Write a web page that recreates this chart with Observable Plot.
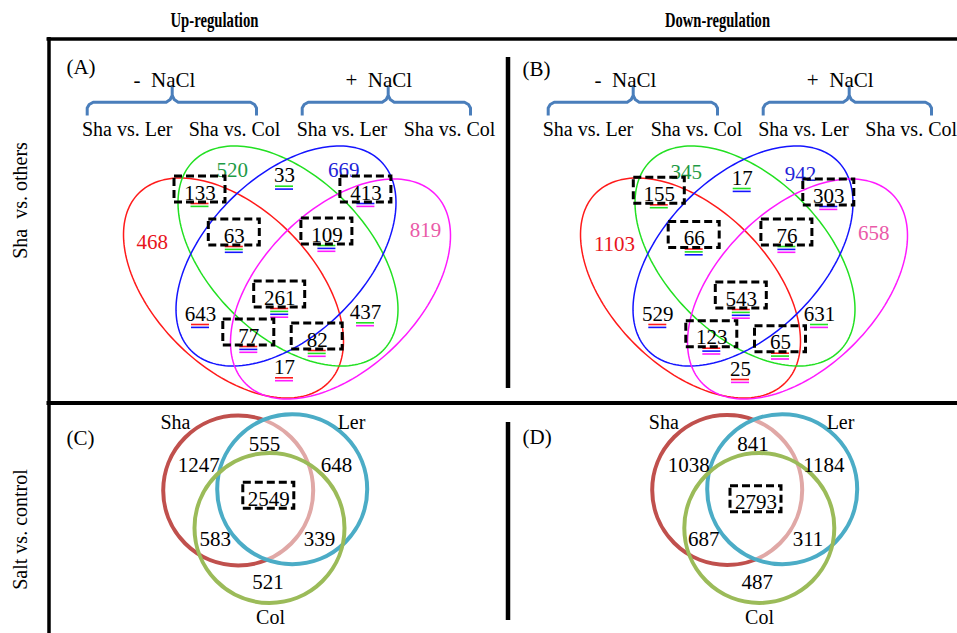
<!DOCTYPE html>
<html><head><meta charset="utf-8">
<script src="https://cdn.jsdelivr.net/npm/d3@7"></script>
<script src="https://cdn.jsdelivr.net/npm/@observablehq/plot@0.6"></script>
<style>body{margin:0;background:#fff} svg{display:block}</style>
</head><body><div id="chart"></div>
<script>
// ---------- DATA ----------
const columnTitles = ["Up-regulation", "Down-regulation"];
const rowTitles = ["Sha  vs. others", "Salt vs. control"];
const panelLetters = ["(A)", "(B)", "(C)", "(D)"];
const conditions = ["-  NaCl", "+  NaCl"];
const comparisons = ["Sha vs. Ler", "Sha vs. Col", "Sha vs. Ler", "Sha vs. Col"];
// 4-set regions: R = Sha vs. Ler (-NaCl), G = Sha vs. Col (-NaCl), B = Sha vs. Ler (+NaCl), M = Sha vs. Col (+NaCl)
const regions4 = ["R","G","B","M","RG","GB","BM","RGB","GBM","RB","GM","RGBM","RBM","RGM","RM"];
const upCounts = [468, 520, 669, 819, 133, 33, 413, 63, 109, 643, 437, 261, 77, 82, 17];
const downCounts = [1103, 345, 942, 658, 155, 17, 303, 66, 76, 529, 631, 543, 123, 65, 25];
const boxedRegions4 = ["RG","BM","RGB","GBM","RGBM","RBM","RGM"];
// 3-set regions: S = Sha, L = Ler, C = Col (salt vs. control)
const genotypes = ["Sha", "Ler", "Col"];
const regions3 = ["S","SL","L","SC","LC","C","SLC"];
const upSalt = [1247, 555, 648, 583, 339, 521, 2549];
const downSalt = [1038, 841, 1184, 687, 311, 487, 2793];
const boxedRegions3 = ["SLC"];

// ---------- LAYOUT (positions / styles) ----------
const serif = "'Liberation Serif','Times New Roman',Times,serif";
const setColor = {R: "#ff1a1a", G: "#22e022", B: "#1414ff", M: "#ff1aff"};
const soloTextColor = {R: "#e8141c", G: "#1e9b46", B: "#2222d8", M: "#ea5aa8"};
const pos4A = {R:[151.7,248.3],G:[231.7,176.7],B:[343.3,176.7],M:[425,236.7],RG:[199.5,199],GB:[284,181.7],BM:[365.4,199],
  RGB:[233.8,242],GBM:[326.4,241],RB:[200,320],GM:[365,318.3],RGBM:[279.2,304],RBM:[248.3,342],RGM:[316.7,346],RM:[284,373.3]};
const pos4B = {R:[614,250],G:[685.7,178.3],B:[800,180],M:[873.3,239.3],RG:[658.8,200.3],GB:[741.7,184],BM:[828.3,202],
  RGB:[693.7,244.5],GBM:[786.4,242],RB:[657.3,320],GM:[819,320],RGBM:[740.8,305],RBM:[711.3,343.7],RGM:[780,348.7],RM:[740,375]};
const pos3C = {S:[198.3,471.7],SL:[264,450],L:[336,471.7],SC:[214.7,545],LC:[319,545],C:[267.5,588.3],SLC:[268.3,505.3]};
const pos3D = {S:[688.3,471.7],SL:[752.5,450],L:[823.3,471.7],SC:[703.3,545],LC:[807.5,545],C:[756.7,588.3],SLC:[755.5,508.7]};
const ellipseA = [ // key, cx, cy, rotation (deg)
  ["R", 233, 287.5, 45], ["G", 287.5, 255.5, 45], ["B", 285.5, 255.5, -45], ["M", 340, 288.5, -45]];
const ellA = 134, ellB = 79, panelShiftB = 457;
const circles = {
  C: [["Sha",237.7,490,"#c0504d"],["Ler",291.7,488.7,"#4bacc6"],["Col",269,527.5,"#9bbb59"]],
  D: [["Sha",726.7,489.5,"#c0504d"],["Ler",781.7,488.7,"#4bacc6"],["Col",758.8,527.5,"#9bbb59"]]};
const circleR = 75;

// ---------- BUILD MARK TABLES ----------
function ellipsePts(id, cx, cy, a, b, deg, color) {
  const t = deg * Math.PI / 180;
  return d3.range(0, 360, 2).map(k => {
    const u = k * Math.PI / 180, px = a * Math.cos(u), py = b * Math.sin(u);
    return {id, color, x: cx + px * Math.cos(t) - py * Math.sin(t), y: cy + px * Math.sin(t) + py * Math.cos(t)};
  });
}
const ellipsePoints = [];
for (const [panel, dx] of [["A", 0], ["B", panelShiftB]]) {
  for (const [k, cx, cy, r] of ellipseA) ellipsePoints.push(...ellipsePts(panel + k, cx + dx, cy, ellA, ellB, r, setColor[k]));
}

const labels4 = [], boxes = [], underlines = [];
function addRegionLabels(counts, pos) {
  regions4.forEach((reg, i) => {
    const [x, y] = pos[reg];
    const solo = reg.length === 1;
    labels4.push({x, y, text: String(counts[i]), fill: solo ? soloTextColor[reg] : "black"});
    if (!solo) reg.split("").forEach((k, j) => underlines.push({x1: x - 9, x2: x + 9, y: y + 4 + 2.9 * j, color: setColor[k]}));
    if (boxedRegions4.includes(reg)) boxes.push({x1: x - 25.5, x2: x + 25.5, y1: y - 23, y2: y + 3});
  });
}
addRegionLabels(upCounts, pos4A);
addRegionLabels(downCounts, pos4B);

const labels3 = [];
function addSaltLabels(counts, pos) {
  regions3.forEach((reg, i) => {
    const [x, y] = pos[reg];
    labels3.push({x, y, text: String(counts[i])});
    if (boxedRegions3.includes(reg)) boxes.push({x1: x - 25.5, x2: x + 25.5, y1: y - 23, y2: y + 3});
  });
}
addSaltLabels(upSalt, pos3C);
addSaltLabels(downSalt, pos3D);

const circleRows = [];
for (const p of ["C", "D"]) circles[p].forEach(([name, x, y, color]) => circleRows.push({panel: p, name, x, y, color}));
const genotypeLabels = [];
const genoPos = {C: [[175,428],[351,428],[270,623]], D: [[663.3,428],[840,428],[759,623]]};
for (const p of ["C", "D"]) genotypes.forEach((g, i) => genotypeLabels.push({x: genoPos[p][i][0], y: genoPos[p][i][1], text: g}));

const braceAnchors = [[86.7,171.7,256],[301.7,387.7,470],[547.7,632.7,717],[762.7,848.7,931]];
const bracePts = [];
braceAnchors.forEach(([x0, xc, x1], i) => {
  const yh = 101.7, ye = 115, yt = 85;
  [[x0,ye],[x0,107.5],[x0+2,104],[x0+6,yh],[xc-6,yh],[xc-2,99],[xc,95],[xc,yt]].forEach(([x,y]) => bracePts.push({id: i+"l", x, y}));
  [[xc,95],[xc+2,99],[xc+6,yh],[x1-6,yh],[x1-2,104],[x1,107.5],[x1,ye]].forEach(([x,y]) => bracePts.push({id: i+"r", x, y}));
});
const condLabels = [
  {x: 164, y: 86, text: conditions[0]}, {x: 378.3, y: 86, text: conditions[1]},
  {x: 625, y: 86, text: conditions[0]}, {x: 839.7, y: 86, text: conditions[1]}];
const compX = [126.7, 234, 341.5, 449, 587.5, 696, 803, 910.7];
const compLabels = compX.map((x, i) => ({x, y: 135, text: comparisons[i % 4]}));
const letterLabels = [{x: 80.5, y: 73.5}, {x: 536, y: 75}, {x: 80, y: 444}, {x: 536.7, y: 443}].map((d, i) => ({...d, text: panelLetters[i]}));
const headerLabels = [{x: 214, y: 26, text: columnTitles[0]}, {x: 717, y: 26, text: columnTitles[1]}];
const rowLabels = [{x: 26, y: 200, text: rowTitles[0]}, {x: 26, y: 529, text: rowTitles[1]}];

const svg = Plot.plot({
  width: 957, height: 633, margin: 0,
  x: {domain: [0, 957], range: [0, 957], axis: null},
  y: {domain: [0, 633], range: [0, 633], axis: null},
  color: {type: "identity"},
  style: {fontFamily: serif, background: "white", overflow: "visible"},
  marks: [
    Plot.ruleY([38.5], {x1: 46.5, x2: 957, stroke: "black", strokeWidth: 3.5}),
    Plot.ruleY([402.5], {x1: 46.5, x2: 957, stroke: "black", strokeWidth: 4}),
    Plot.ruleX([48.5], {y1: 37, y2: 633, stroke: "black", strokeWidth: 3.5}),
    Plot.ruleX([507.5], {y1: 57, y2: 388, stroke: "black", strokeWidth: 4.5}),
    Plot.ruleX([507.5], {y1: 422, y2: 620, stroke: "black", strokeWidth: 4.5}),
    Plot.text(headerLabels, {x: "x", y: "y", text: "text", fontSize: 20, fontWeight: "bold", lineAnchor: "bottom"}),
    Plot.text(rowLabels, {x: "x", y: "y", text: "text", fontSize: 20, rotate: -90, lineAnchor: "bottom"}),
    Plot.text(letterLabels, {x: "x", y: "y", text: "text", fontSize: 21, lineAnchor: "bottom"}),
    Plot.line(bracePts, {x: "x", y: "y", z: "id", stroke: "#4a7ebb", strokeWidth: 3, strokeLinejoin: "round", strokeLinecap: "butt"}),
    Plot.text(condLabels, {x: "x", y: "y", text: "text", fontSize: 21, lineAnchor: "bottom"}),
    Plot.text(compLabels, {x: "x", y: "y", text: "text", fontSize: 20, lineAnchor: "bottom"}),
    Plot.line(ellipsePoints, {x: "x", y: "y", z: "id", stroke: "color", strokeWidth: 1.5, curve: "linear-closed"}),
    Plot.ruleY(underlines, {x1: "x1", x2: "x2", y: "y", stroke: "color", strokeWidth: 1.6}),
    Plot.text(labels4, {x: "x", y: "y", text: "text", fill: "fill", fontSize: 21, lineAnchor: "bottom"}),
    Plot.dot(circleRows, {filter: d => d.name === "Sha", x: "x", y: "y", r: circleR, stroke: "color", strokeWidth: 4, fill: "none"}),
    Plot.dot(circleRows, {filter: d => d.name === "Ler", x: "x", y: "y", r: circleR, stroke: "color", strokeWidth: 4, fill: "white", fillOpacity: 0.5}),
    Plot.dot(circleRows, {filter: d => d.name === "Col", x: "x", y: "y", r: circleR, stroke: "color", strokeWidth: 4, fill: "none"}),
    Plot.text(labels3, {x: "x", y: "y", text: "text", fontSize: 21, lineAnchor: "bottom"}),
    Plot.text(genotypeLabels, {x: "x", y: "y", text: "text", fontSize: 20, lineAnchor: "bottom"}),
    Plot.rect(boxes, {x1: "x1", x2: "x2", y1: "y1", y2: "y2", stroke: "black", fill: "none", strokeWidth: 3, strokeDasharray: "8,4"})
  ]
});
d3.select(svg).selectAll("text").each(function () {
  const t = this.textContent;
  if (t === "Up-regulation") d3.select(this).attr("textLength", 88).attr("lengthAdjust", "spacingAndGlyphs");
  if (t === "Down-regulation") d3.select(this).attr("textLength", 105).attr("lengthAdjust", "spacingAndGlyphs");
});
document.getElementById("chart").appendChild(svg);
</script>
</body></html>
